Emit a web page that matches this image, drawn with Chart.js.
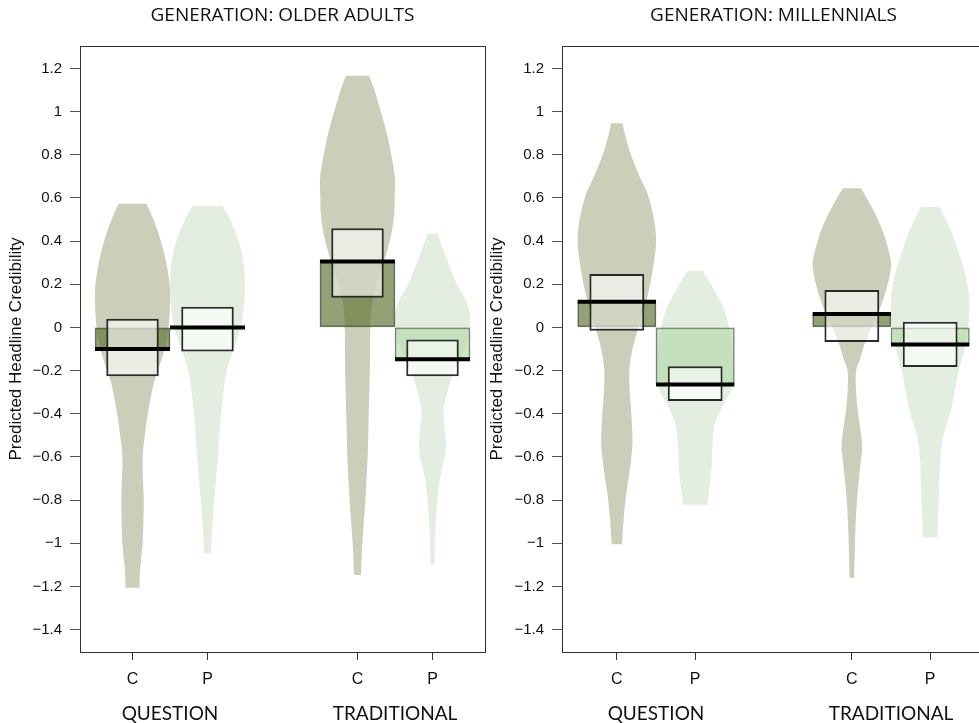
<!DOCTYPE html>
<html>
<head>
<meta charset="utf-8">
<title>Predicted headline credibility</title>
<script src="https://cdn.jsdelivr.net/npm/chart.js@4.4.1/dist/chart.umd.min.js"></script>
<style>
  html, body { margin: 0; padding: 0; background: #fff; overflow: hidden; }
  #wrap { position: relative; width: 979px; height: 723px; overflow: hidden; }
  .panel { position: absolute; top: 0; }
  #older { left: 0; }
  #millennials { left: 486px; }
</style>
</head>
<body>
<div id="wrap">
  <div class="panel" id="older"><canvas id="olderChart" width="490" height="723"></canvas></div>
  <div class="panel" id="millennials"><canvas id="millChart" width="504" height="723"></canvas></div>
</div>
<script>
// categories
const groups = ['QUESTION', 'TRADITIONAL'];
const groupCenters = [1.5, 4.5];
const conditions = ['C', 'P', 'C', 'P'];
const positions = [1, 2, 4, 5];
const yTicks = [1.2, 1, 0.8, 0.6, 0.4, 0.2, 0, -0.2, -0.4, -0.6, -0.8, -1, -1.2, -1.4];
const yTickLabels = ['1.2', '1', '0.8', '0.6', '0.4', '0.2', '0',
  '\u22120.2', '\u22120.4', '\u22120.6', '\u22120.8', '\u22121', '\u22121.2', '\u22121.4'];

// older adults: means and HDI bounds (Q-C, Q-P, T-C, T-P)
const olderMeans = [-0.100, 0.000, 0.305, -0.147];
const olderHdiLow = [-0.226, -0.112, 0.138, -0.226];
const olderHdiHigh = [0.040, 0.096, 0.459, -0.056];

// millennials
const millMeans = [0.119, -0.264, 0.062, -0.079];
const millHdiLow = [-0.016, -0.341, -0.067, -0.183];
const millHdiHigh = [0.248, -0.180, 0.173, 0.026];

// bean densities (value levels, relative width)
const olderQC_v = [-1.206, -1.13, -1.0, -0.9, -0.8, -0.7, -0.6, -0.5, -0.4, -0.25, -0.1, 0.0, 0.17, 0.3, 0.41, 0.5, 0.573];
const olderQC_w = [0.19, 0.20, 0.27, 0.29, 0.30, 0.28, 0.27, 0.33, 0.41, 0.58, 0.86, 0.96, 1.0, 0.90, 0.74, 0.56, 0.37];
const olderQP_v = [-1.047, -1.0, -0.8, -0.6, -0.4, -0.2, -0.1, 0.0, 0.1, 0.2, 0.3, 0.406, 0.5, 0.564];
const olderQP_w = [0.09, 0.10, 0.18, 0.28, 0.36, 0.51, 0.70, 0.88, 0.97, 1.0, 0.96, 0.82, 0.60, 0.40];
const olderTC_v = [-1.147, -1.0, -0.8, -0.6, -0.4, -0.2, 0.0, 0.1, 0.2, 0.3, 0.4, 0.46, 0.53, 0.6, 0.69, 0.8, 0.9, 1.0, 1.1, 1.166];
const olderTC_w = [0.09, 0.13, 0.21, 0.27, 0.30, 0.33, 0.34, 0.38, 0.50, 0.70, 0.86, 0.93, 0.98, 0.99, 1.0, 0.90, 0.78, 0.62, 0.45, 0.31];
const olderTP_v = [-1.098, -0.97, -0.8, -0.7, -0.6, -0.54, -0.47, -0.4, -0.34, -0.245, -0.2, -0.1, 0.0, 0.1, 0.2, 0.3, 0.434];
const olderTP_w = [0.05, 0.07, 0.13, 0.20, 0.33, 0.36, 0.33, 0.29, 0.34, 0.49, 0.60, 0.85, 1.0, 0.95, 0.65, 0.42, 0.13];

const millQC_v = [-1.005, -0.9, -0.8, -0.7, -0.6, -0.53, -0.4, -0.3, -0.2, -0.1, 0.0, 0.1, 0.25, 0.42, 0.6, 0.7, 0.8, 0.9, 0.946];
const millQC_w = [0.13, 0.17, 0.22, 0.30, 0.37, 0.40, 0.37, 0.33, 0.32, 0.40, 0.55, 0.72, 0.90, 1.0, 0.82, 0.58, 0.36, 0.20, 0.15];
const millQP_v = [-0.822, -0.75, -0.65, -0.55, -0.45, -0.4, -0.355, -0.29, -0.2, -0.1, 0.0, 0.1, 0.2, 0.263];
const millQP_w = [0.31, 0.36, 0.42, 0.44, 0.50, 0.61, 0.72, 0.92, 1.0, 0.95, 0.87, 0.70, 0.40, 0.19];
const millTC_v = [-1.16, -1.0, -0.8, -0.6, -0.57, -0.5, -0.4, -0.3, -0.2, -0.14, -0.07, 0.0, 0.08, 0.17, 0.28, 0.34, 0.47, 0.6, 0.645];
const millTC_w = [0.06, 0.08, 0.13, 0.24, 0.26, 0.24, 0.16, 0.11, 0.11, 0.22, 0.34, 0.50, 0.70, 0.87, 1.0, 0.96, 0.74, 0.38, 0.23];
const millTP_v = [-0.974, -0.89, -0.8, -0.7, -0.6, -0.5, -0.4, -0.3, -0.2, -0.1, 0.0, 0.13, 0.25, 0.406, 0.5, 0.558];
const millTP_w = [0.19, 0.20, 0.22, 0.24, 0.26, 0.34, 0.51, 0.62, 0.73, 0.88, 0.97, 1.0, 0.89, 0.62, 0.40, 0.24];

const BEAN_HALF = 0.5;
const beanColors = ['#cbcfb9', '#e4eee0', '#cbcfb9', '#e4eee0'];
const barColors = ['rgba(90,110,45,0.65)', 'rgba(175,215,165,0.6)', 'rgba(90,110,45,0.65)', 'rgba(175,215,165,0.6)'];

function beanPoints(pos, levels, widths) {
    // right side going up, then left side coming down;
    // end points are doubled so the cut top and bottom keep sharp corners
    const right = levels.map((v, i) => ({ x: pos + widths[i] * BEAN_HALF, y: v }));
    const left = levels.map((v, i) => ({ x: pos - widths[i] * BEAN_HALF, y: v })).reverse();
    const n = right.length;
    return [right[0], ...right, right[n - 1], left[0], ...left, left[n - 1]];
}

function buildDatasets(beans, means, low, high) {
    const sets = [];
    beans.forEach((b, i) => {
        sets.push({
            type: 'line',
            data: beanPoints(positions[i], b[0], b[1]),
            backgroundColor: beanColors[i],
            borderWidth: 0,
            borderColor: 'transparent',
            pointRadius: 0,
            tension: 0.35,
            fill: 'shape',
            order: 4
        });
    });
    // bars from zero to the mean
    sets.push({
        type: 'bar',
        data: positions.map((p, i) => ({ x: p, y: [0, means[i]] })),
        backgroundColor: barColors,
        borderColor: 'rgba(60,60,60,0.75)',
        borderWidth: 1,
        borderSkipped: false,
        grouped: false,
        categoryPercentage: 1,
        barPercentage: 1,
        order: 3
    });
    // inference bands (HDI)
    sets.push({
        type: 'bar',
        data: positions.map((p, i) => ({ x: p, y: [low[i], high[i]] })),
        backgroundColor: 'rgba(255,255,255,0.62)',
        borderColor: '#2a2a2a',
        borderWidth: 2,
        borderSkipped: false,
        grouped: false,
        categoryPercentage: 1,
        barPercentage: 0.7,
        order: 2
    });
    // mean lines
    positions.forEach((p, i) => {
        sets.push({
            type: 'line',
            data: [{ x: p - BEAN_HALF, y: means[i] }, { x: p + BEAN_HALF, y: means[i] }],
            borderColor: '#000',
            borderWidth: 4,
            borderCapStyle: 'butt',
            pointRadius: 0,
            fill: false,
            order: 1
        });
    });
    return sets;
}

const boxPlugin = {
    id: 'plotBox',
    afterDraw(chart) {
        const { ctx, chartArea: a } = chart;
        ctx.save();
        ctx.strokeStyle = '#333';
        ctx.lineWidth = 1;
        ctx.strokeRect(a.left + 0.5, a.top + 0.5, a.right - a.left, a.bottom - a.top);
        ctx.restore();
    }
};

const tickFont = { family: '"Liberation Sans", Arial, sans-serif', size: 15 };

function makeConfig(title, datasets, yWidth, titlePad) {
    return {
        type: 'bar',
        data: { datasets: datasets },
        plugins: [boxPlugin],
        options: {
            responsive: false,
            animation: false,
            layout: { padding: { left: 0, right: 5, top: 0, bottom: 0 } },
            plugins: {
                legend: { display: false },
                tooltip: { enabled: false },
                title: {
                    display: true,
                    text: title,
                    fullSize: false,
                    color: '#111',
                    font: { family: '"Open Sans", Lato, sans-serif', size: 19, weight: 'normal' },
                    padding: { top: 4, bottom: 19.2 }
                }
            },
            scales: {
                x: {
                    type: 'linear', min: 0.3, max: 5.7, weight: 0, offset: false,
                    afterBuildTicks: s => { s.ticks = positions.map(v => ({ value: v })); },
                    afterFit: s => { s.height = 38; },
                    grid: { offset: false, drawOnChartArea: false, drawTicks: true, tickLength: 8, tickColor: '#333' },
                    border: { display: true, color: '#555' },
                    ticks: {
                        callback: (v, i) => conditions[i],
                        font: { family: '"Liberation Sans", Arial, sans-serif', size: 16 },
                        color: '#111', padding: 10, maxRotation: 0, autoSkip: false
                    }
                },
                x2: {
                    type: 'linear', position: 'bottom', min: 0.3, max: 5.7, weight: 1, offset: false,
                    afterBuildTicks: s => { s.ticks = groupCenters.map(v => ({ value: v })); },
                    afterFit: s => { s.height = 33; },
                    grid: { offset: false, display: false, drawTicks: false },
                    border: { display: false },
                    ticks: {
                        callback: (v, i) => groups[i],
                        font: { family: 'Lato, "Open Sans", sans-serif', size: 19 },
                        color: '#111', padding: 12, maxRotation: 0, autoSkip: false
                    }
                },
                y: {
                    type: 'linear', min: -1.504, max: 1.304, z: 1,
                    afterBuildTicks: s => { s.ticks = yTicks.map(v => ({ value: v })); },
                    afterFit: s => { s.width = yWidth; },
                    grid: { color: 'rgba(255,255,255,0.4)', lineWidth: 1, tickColor: '#555', tickLength: 10 },
                    border: { display: true, color: '#555' },
                    ticks: { callback: (v, i) => yTickLabels[i], font: tickFont, color: '#111', padding: 8 },
                    title: {
                        display: true,
                        text: 'Predicted Headline Credibility',
                        color: '#111',
                        font: { family: '"Liberation Sans", Arial, sans-serif', size: 17 },
                        padding: { top: titlePad, bottom: 0 }
                    }
                }
            }
        }
    };
}

const olderBeans = [[olderQC_v, olderQC_w], [olderQP_v, olderQP_w], [olderTC_v, olderTC_w], [olderTP_v, olderTP_w]];
const millBeans = [[millQC_v, millQC_w], [millQP_v, millQP_w], [millTC_v, millTC_w], [millTP_v, millTP_w]];

new Chart(document.getElementById('olderChart'),
    makeConfig('GENERATION: OLDER ADULTS', buildDatasets(olderBeans, olderMeans, olderHdiLow, olderHdiHigh), 80, 6));
new Chart(document.getElementById('millChart'),
    makeConfig('GENERATION: MILLENNIALS', buildDatasets(millBeans, millMeans, millHdiLow, millHdiHigh), 76, 1));
</script>
</body>
</html>
